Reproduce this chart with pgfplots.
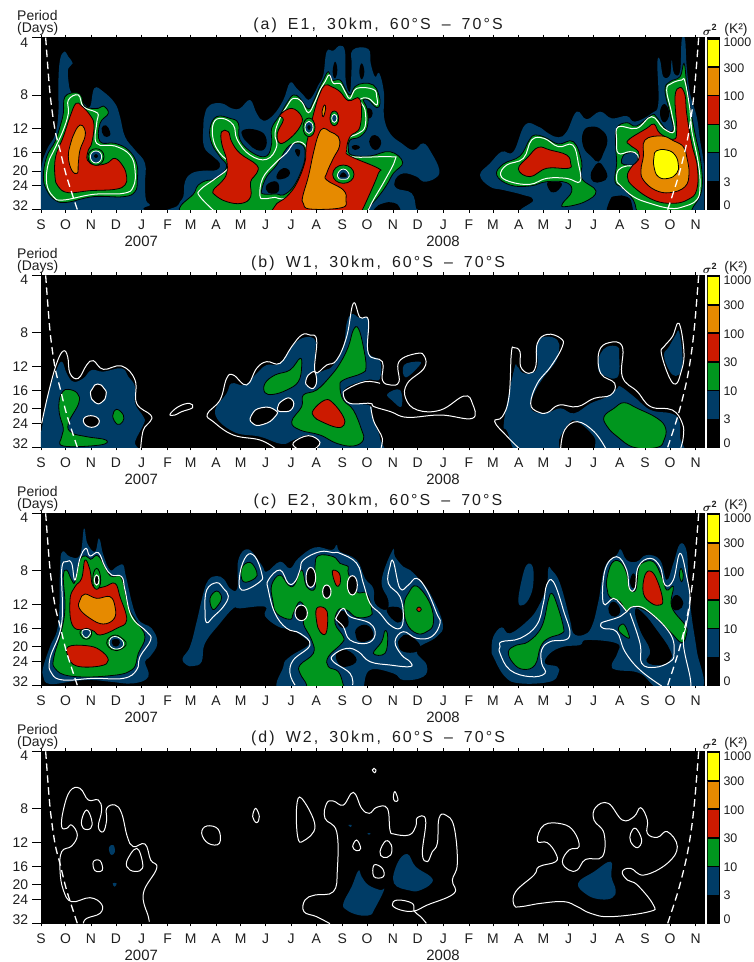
\documentclass[border=0pt]{standalone}
\usepackage{fontspec}
\setmainfont{Liberation Sans}
\newfontfamily\ttlfont[LetterSpace=13,WordSpace=1.7]{Liberation Sans}
\usepackage{pgfplots}
\pgfplotsset{compat=1.18}
\definecolor{cblue}{RGB}{0,60,102}
\definecolor{cgreen}{RGB}{0,150,30}
\definecolor{cred}{RGB}{204,26,0}
\definecolor{corange}{RGB}{230,138,0}
\definecolor{cyellow}{RGB}{255,255,0}
\definecolor{txt}{RGB}{30,30,30}
\pgfplotsset{
 bz/.style={no marks,smooth cycle,tension=0.7,fill=cblue,draw=none},
 kz/.style={no marks,smooth cycle,tension=0.8,fill=black,draw=none},
 gz/.style={no marks,smooth cycle,tension=0.7,fill=cgreen,draw=black,line width=0.8bp},
 gr/.style={no marks,smooth cycle,tension=1,fill=cgreen,draw=black,line width=0.8bp},
 rz/.style={no marks,smooth cycle,tension=0.7,fill=cred,draw=black,line width=0.8bp},
 oz/.style={no marks,smooth cycle,tension=0.7,fill=corange,draw=black,line width=0.8bp},
 yz/.style={no marks,smooth cycle,tension=0.8,fill=cyellow,draw=black,line width=0.8bp},
 wl/.style={no marks,smooth cycle,tension=0.7,draw=white,line width=1bp},
 wo/.style={no marks,smooth,tension=0.7,draw=white,line width=1bp},
 wk/.style={no marks,smooth cycle,tension=1,draw=white,fill=black,line width=1bp},
 wb/.style={no marks,smooth cycle,tension=1,draw=white,fill=cblue,line width=0.8bp},
 dl/.style={no marks,smooth,draw=white,line width=1.3bp,dash pattern=on 7.5bp off 4.5bp},
 d/.style 2 args={x filter/.code={\pgfmathparse{##1+#1}},y filter/.code={\pgfmathparse{##1+#2}}},
 panel/.style={scale only axis,width=663bp,height=172bp,anchor=north west,
  xmin=123,xmax=2112,y dir=reverse,
  axis background/.style={fill=black},
  axis line style={line width=0.6bp,black},
  tick align=outside,ytick pos=left,
  xtick={123,197,273,348,425,503,572,648,722,797,873,949,1027,1101,1179,1253,1330,1407,1479,1556,1630,1706,1781,1859,1935,2010,2087},
  xticklabels={S,O,N,D,J,F,M,A,M,J,J,A,S,O,N,D,J,F,M,A,M,J,J,A,S,O,N},
  xtick style={/pgfplots/major tick length=3bp,line width=0.6bp,black},
  ytick style={/pgfplots/major tick length=9bp,line width=0.6bp,black},
  xticklabel style={font=\fontsize{14}{14}\selectfont,text=txt,anchor=center,yshift=-11bp},
  yticklabel style={font=\fontsize{14}{14}\selectfont,text=txt,anchor=east,xshift=-5bp},
  yticklabels={,8,12,16,20,24,},
  extra y tick labels={4,32},
  extra tick style={ytick style={draw=none}},
 },
 rt/.style={scale only axis,width=663bp,height=172bp,anchor=north west,
  xmin=123,xmax=2112,y dir=reverse,axis lines=none},
 cb/.style={scale only axis,width=11.7bp,height=172bp,anchor=north west,
  xmin=0,xmax=1,ymin=0,ymax=516,y dir=reverse,
  axis background/.style={fill=black},
  axis line style={line width=0.6bp,black},
  xtick=\empty,ytick pos=right,
  ytick={14,91,177,262,348,433,504},
  yticklabels={1000,300,100,30,10,3,0},
  ytick style={draw=none},
  yticklabel style={font=\fontsize{12.5}{12.5}\selectfont,text=txt,anchor=west,xshift=1bp},
 },
}
\newcommand\cbarfill{%
 \addplot[fill=cyellow,draw=black,line width=0.7bp] coordinates {(0,4)(1,4)(1,87)(0,87)} --cycle;
 \addplot[fill=corange,draw=black,line width=0.7bp] coordinates {(0,89)(1,89)(1,172)(0,172)} --cycle;
 \addplot[fill=cred,draw=black,line width=0.7bp] coordinates {(0,174)(1,174)(1,259)(0,259)} --cycle;
 \addplot[fill=cgreen,draw=black,line width=0.7bp] coordinates {(0,261)(1,261)(1,345)(0,345)} --cycle;
 \addplot[fill=cblue,draw=none] coordinates {(0,346)(1,346)(1,430)(0,430)} --cycle;
}
\newcommand\ptext[7]{%
 \node[font=\ttlfont\fontsize{16}{16}\selectfont,text=txt] at (378bp,-#2bp) {#1, 30km, 60°S – 70°S};
 \node[font=\fontsize{14}{14}\selectfont,text=txt,anchor=west,inner sep=0pt] at (17bp,-#3bp) {Period};
 \node[font=\fontsize{14}{14}\selectfont,text=txt,anchor=west,inner sep=0pt] at (17bp,-#4bp) {(Days)};
 \node[font=\fontsize{15}{15}\selectfont,text=txt] at (141.3bp,-#5bp) {2007};
 \node[font=\fontsize{15}{15}\selectfont,text=txt] at (443bp,-#5bp) {2008};
 \node[font=\bfseries\fontsize{13}{13}\selectfont,text=txt] at (710bp,-#6bp) {$\boldsymbol{\sigma}^{\mathbf 2}$};
 \node[font=\fontsize{14}{14}\selectfont,text=txt] at (736bp,-#7bp) {(K²)};
}
\usepackage{amsmath}
\begin{document}
\begin{tikzpicture}[x=1bp,y=1bp]
\path[use as bounding box] (0,0) rectangle (754,-962);
%%%%%%%%%%%%%%%%%%%%%%%%% (a)
\begin{axis}[panel,at={(41bp,-37.67bp)},ymin=113,ymax=629,
 ytick={113,285,386,458,513,557,629},extra y ticks={127,617}]
\addplot[bz] coordinates {(110,650)(123,510)(140,450)(165,405)(175,340)(175,250)(180,180)(193,155)(205,170)(218,190)(205,205)(205,240)(215,280)(250,310)(270,320)(283,265)(310,275)(345,310)(360,350)(375,410)(405,450)(435,490)(435,550)(438,600)(450,615)(430,625)(423,650)};
\addplot[kz] coordinates {(305,385)(318,376)(330,395)(328,408)(312,408)};
\addplot[gz] coordinates {(195,290)(230,278)(245,290)(255,320)(295,325)(310,318)(325,340)(300,370)(300,425)(345,430)(385,450)(410,490)(412,540)(405,575)(370,590)(280,590)(200,607)(165,600)(140,570)(130,530)(140,470)(165,425)(180,380)(190,340)};
\addplot[wl] coordinates {(205,300)(235,285)(250,320)(285,335)(295,345)(290,370)(290,430)(345,438)(390,465)(405,510)(400,560)(370,580)(280,583)(190,600)(160,590)(140,550)(145,490)(165,445)(190,390)(205,340)};
\addplot[rz] coordinates {(228,310)(245,318)(270,345)(282,375)(275,430)(265,450)(262,480)(285,495)(320,490)(345,475)(370,500)(380,530)(375,555)(345,568)(270,572)(205,578)(175,560)(165,530)(167,470)(190,410)(210,350)};
\addplot[oz] coordinates {(240,375)(253,385)(255,410)(240,450)(235,490)(232,520)(215,510)(205,470)(212,430)(225,395)};
\addplot[gr] coordinates {(288,446)(312,470)(288,496)(264,470)};
\addplot[wb] coordinates {(288,453)(305,470)(288,489)(271,470)};
\addplot[kz] coordinates {(288,462)(294,468)(288,474)(282,468)};
% middle
\addplot[bz] coordinates {(535,615)(550,590)(555,545)(575,520)(610,512)(650,510)(660,490)(640,470)(612,440)(610,380)(615,340)(630,315)(665,310)(695,325)(720,325)(750,300)(770,340)(790,362)(820,345)(850,300)(870,248)(890,265)(910,285)(925,300)(940,285)(955,255)(970,225)(980,155)(1000,152)(1020,137)(1035,155)(1037,240)(1050,275)(1055,200)(1058,150)(1105,147)(1112,190)(1125,230)(1138,220)(1152,280)(1152,350)(1170,400)(1205,430)(1240,450)(1270,430)(1295,460)(1318,510)(1305,535)(1270,545)(1250,530)(1210,520)(1185,540)(1190,565)(1235,580)(1248,625)(1250,650)(545,650)};
\addplot[kz] coordinates {(1125,625)(1150,610)(1180,608)(1200,625)(1190,650)(1120,650)};
\addplot[kz] coordinates {(1005,185)(998,215)(1005,235)(1012,210)};
\addplot[kz] coordinates {(1085,190)(1078,215)(1085,238)(1093,215)};
\addplot[kz] coordinates {(730,390)(770,390)(797,410)(795,445)(770,450)(745,430)(728,410)};
\addplot[kz] coordinates {(1098,330)(1110,325)(1118,340)(1110,355)(1100,350)};
\addplot[kz] coordinates {(1110,415)(1125,405)(1142,420)(1140,440)(1125,450)(1110,435)};
\addplot[kz] coordinates {(1055,440)(1068,435)(1080,442)(1065,450)};
\addplot[gz] coordinates {(582,650)(585,575)(610,545)(650,535)(680,500)(660,470)(635,430)(630,385)(650,350)(690,355)(715,370)(720,420)(760,460)(800,468)(815,430)(815,385)(840,345)(860,310)(880,285)(900,295)(925,327)(940,305)(955,270)(970,240)(985,215)(995,240)(1020,240)(1035,265)(1050,285)(1065,260)(1090,250)(1120,255)(1135,280)(1140,310)(1130,323)(1105,300)(1090,300)(1102,330)(1102,380)(1080,410)(1050,420)(1045,445)(1055,465)(1110,468)(1170,455)(1208,487)(1180,520)(1160,555)(1135,590)(1105,625)(1095,650)};
\addplot[no marks,smooth cycle,tension=0.7,fill=cblue,draw=black,line width=0.8bp] coordinates {(785,570)(800,530)(830,495)(860,445)(885,430)(910,437)(915,470)(905,510)(880,560)(850,585)(830,582)(790,582)};
\addplot[kz] coordinates {(885,450)(900,450)(895,470)};
\addplot[kz] coordinates {(840,510)(860,505)(870,520)(855,535)(830,535)};
\addplot[kz] coordinates {(800,555)(830,545)(835,575)(805,578)};
\addplot[wo] coordinates {(650,640)(600,590)(600,570)(640,540)(680,510)(690,490)(660,460)(640,420)(640,370)(665,355)(700,375)(712,420)(750,465)(800,478)(830,440)(825,400)(840,355)(860,320)(880,295)(905,305)(925,338)(945,305)(960,270)(975,245)(988,225)(1000,250)(1020,250)(1035,275)(1050,295)(1070,265)(1120,268)(1130,290)(1130,315)(1105,295)(1080,300)(1095,330)(1095,380)(1075,400)(1045,415)(1040,445)(1055,470)(1170,470)(1185,480)(1155,540)(1120,600)(1100,640)};
\addplot[wl] coordinates {(780,588)(788,535)(825,490)(860,458)(885,427)(915,435)(922,475)(905,525)(880,575)(850,597)(825,592)(795,596)};
\addplot[rz] coordinates {(665,395)(685,395)(695,425)(720,460)(770,495)(770,520)(752,545)(752,590)(725,610)(680,605)(645,585)(640,570)(665,545)(680,520)(680,480)(665,430)};
\addplot[rz] coordinates {(840,345)(875,325)(905,350)(900,380)(870,415)(840,430)(832,400)(850,360)};
\addplot[rz] coordinates {(975,255)(995,260)(1020,275)(1045,302)(1080,298)(1080,380)(1050,410)(1040,450)(1050,468)(1135,505)(1135,520)(1110,580)(1082,640)(1075,650)(840,650)(825,618)(860,590)(890,550)(915,485)(920,430)(945,325)(960,280)};
\addplot[oz] coordinates {(970,385)(990,395)(1015,410)(1018,440)(1000,475)(980,520)(980,540)(1030,570)(1038,600)(1025,623)(930,627)(910,610)(908,590)(925,530)(940,460)(955,405)};
\addplot[oz] coordinates {(973,315)(977,325)(970,350)(966,335)};
\addplot[gr] coordinates {(927,354)(945,382)(927,410)(909,382)};
\addplot[wb] coordinates {(927,364)(939,382)(927,400)(915,382)};
\addplot[kz] coordinates {(927,375)(932,382)(927,390)(922,382)};
\addplot[gr] coordinates {(1003,333)(1016,355)(1003,377)(990,355)};
\addplot[wb] coordinates {(1003,343)(1011,355)(1003,367)(995,355)};
\addplot[gr] coordinates {(1030,495)(1062,523)(1030,550)(998,523)};
\addplot[wb] coordinates {(1030,507)(1048,528)(1030,538)(1012,528)};
\addplot[kz] coordinates {(1030,517)(1040,530)(1020,530)};
% right
\addplot[bz] coordinates {(1440,525)(1470,490)(1505,455)(1540,455)(1575,375)(1615,380)(1645,400)(1675,412)(1700,395)(1730,335)(1760,358)(1800,335)(1835,355)(1880,348)(1905,365)(1955,340)(1975,310)(1972,190)(1980,180)(1990,230)(2010,225)(2015,180)(2022,220)(2040,215)(2045,120)(2055,118)(2060,200)(2070,280)(2090,350)(2100,420)(2110,480)(2115,540)(2115,650)(1600,650)(1600,600)(1570,585)(1510,570)(1470,560)};
\addplot[kz] coordinates {(1750,395)(1775,380)(1805,390)(1822,420)(1810,460)(1795,485)(1775,470)(1750,440)};
\addplot[kz] coordinates {(1795,488)(1810,500)(1822,530)(1805,545)(1780,545)(1772,525)(1780,505)};
\addplot[kz] coordinates {(1642,548)(1660,545)(1685,550)(1675,570)(1660,577)(1648,570)};
\addplot[kz] coordinates {(1980,335)(1993,312)(2007,335)(2002,360)(1988,365)};
\addplot[kz] coordinates {(1830,600)(1850,588)(1880,590)(1895,610)(1890,650)(1825,650)};
\addplot[gz] coordinates {(1490,525)(1510,492)(1560,468)(1588,420)(1605,405)(1635,412)(1675,432)(1720,425)(1745,485)(1745,535)(1788,573)(1755,605)(1695,620)(1688,610)(1715,575)(1700,548)(1640,545)(1590,558)(1530,555)};
\addplot[wl] coordinates {(1502,525)(1520,495)(1570,475)(1595,420)(1632,415)(1675,440)(1718,435)(1735,490)(1740,545)(1700,535)(1640,535)(1590,553)(1530,545)};
\addplot[rz] coordinates {(1555,507)(1585,470)(1615,442)(1650,450)(1700,465)(1712,490)(1705,505)(1640,505)(1590,530)};
\addplot[gz] coordinates {(1850,385)(1880,368)(1910,378)(1955,345)(1970,352)(2000,390)(2020,388)(2010,340)(1995,270)(2010,245)(2040,230)(2052,190)(2060,250)(2070,320)(2085,400)(2103,490)(2105,570)(2080,620)(2050,650)(1930,650)(1900,600)(1870,565)(1845,545)(1850,490)(1847,440)};
\addplot[no marks,smooth cycle,tension=0.7,fill=cblue,draw=black,line width=0.8bp] coordinates {(1880,460)(1905,458)(1913,470)(1908,492)(1885,495)(1865,490)(1868,470)};
\addplot[wl] coordinates {(1855,380)(1910,385)(1955,350)(1990,385)(2022,395)(2015,340)(2000,270)(2015,250)(2045,240)(2055,245)(2070,330)(2075,390)(2095,490)(2100,560)(2090,600)(2050,620)(2010,625)(1950,610)(1900,590)(1860,555)(1850,540)(1855,510)(1880,498)(1910,495)(1913,465)(1890,455)(1855,460)(1850,420)};
\addplot[rz] coordinates {(1885,420)(1940,385)(1962,372)(1980,400)(2020,418)(2030,390)(2025,290)(2040,262)(2055,285)(2060,340)(2075,430)(2092,500)(2090,570)(2065,598)(2020,610)(1960,600)(1900,560)(1882,530)(1895,500)(1915,480)(1915,455)(1890,435)};
\addplot[oz] coordinates {(1935,420)(1985,408)(2020,422)(2050,440)(2060,470)(2067,520)(2055,560)(2010,578)(1965,570)(1930,540)(1923,510)(1930,470)};
\addplot[yz] coordinates {(1970,452)(2000,450)(2025,465)(2035,495)(2030,520)(2005,535)(1975,530)(1962,500)(1962,470)};
\addplot[dl] coordinates {(137,113)(150,280)(165,390)(180,450)(200,530)(232,629)};
\addplot[dl] coordinates {(2003,629)(2035,530)(2060,430)(2075,340)(2085,250)(2096,113)};
\end{axis}
\begin{axis}[rt,at={(41bp,-37.67bp)},ymin=113,ymax=629,axis lines=right,x axis line style={draw=none},y axis line style={draw=none},xtick=\empty,ytick={285,386,458,513,557},yticklabels={},ytick style={/pgfplots/major tick length=3bp,black,line width=0.6bp},tick align=outside]
\end{axis}
\begin{axis}[cb,at={(707.3bp,-37.67bp)}]\cbarfill\end{axis}
\ptext{(a) E1}{25.5}{15.7}{29}{241}{30}{30}
%%%%%%%%%%%%%%%%%%%%%%%%% (b)
\begin{axis}[panel,at={(41bp,-275.33bp)},ymin=106,ymax=622,
 ytick={106,278,379,451,506,550,622},extra y ticks={120,610}]
\addplot[bz] coordinates {(110,650)(125,570)(140,480)(165,400)(185,365)(200,400)(220,425)(250,415)(275,390)(310,395)(365,385)(385,410)(405,440)(405,490)(430,530)(432,550)(405,605)(400,650)};
\addplot[wk] coordinates {(293,432)(312,445)(318,465)(305,487)(285,487)(272,465)(278,445)};
\addplot[wk] coordinates {(250,543)(272,527)(298,543)(275,562)};
\addplot[gz] coordinates {(205,448)(232,460)(236,490)(205,550)(215,578)(260,590)(318,600)(300,615)(190,618)(185,590)(190,565)(178,520)(178,480)(188,455)};
\addplot[gz] coordinates {(350,508)(370,525)(368,545)(352,553)(338,528)};
\addplot[wo] coordinates {(125,550)(145,460)(170,370)(190,333)(203,350)(210,400)(235,415)(260,375)(280,362)(310,388)(365,378)(405,420)(410,490)(452,525)(450,545)(430,570)(422,625)};
\addplot[wl] coordinates {(510,523)(535,500)(568,490)(578,503)(545,515)(525,525)};
\addplot[bz] coordinates {(645,520)(680,460)(695,430)(735,435)(770,400)(800,375)(840,370)(880,315)(915,292)(945,300)(945,340)(945,395)(975,390)(1000,375)(1030,320)(1040,250)(1055,222)(1080,235)(1105,240)(1105,335)(1140,362)(1140,415)(1122,420)(1100,420)(1040,442)(1028,470)(1050,490)(1110,497)(1115,530)(1130,565)(1140,595)(1140,650)(965,650)(960,605)(925,585)(880,600)(845,612)(780,590)(700,575)};
\addplot[wk] coordinates {(755,525)(785,503)(825,510)(825,530)(790,553)(758,550)};
\addplot[wk] coordinates {(832,505)(850,480)(875,478)(877,505)(850,515)};
\addplot[wk] coordinates {(918,420)(935,397)(948,405)(945,440)(925,440)};
\addplot[gz] coordinates {(795,430)(825,405)(870,390)(900,355)(905,380)(895,425)(860,450)(820,463)(795,458)};
\addplot[gz] coordinates {(875,545)(905,500)(910,465)(950,450)(990,410)(1020,370)(1045,320)(1060,270)(1075,265)(1090,320)(1098,380)(1085,400)(1030,420)(1020,440)(1030,480)(1060,510)(1085,570)(1090,600)(1060,618)(1010,610)(960,585)(900,570)};
\addplot[rz] coordinates {(940,510)(975,480)(1000,490)(1030,530)(1032,555)(1010,562)(965,545)(942,530)};
\addplot[wo] coordinates {(825,625)(780,600)(700,585)(640,545)(622,522)(660,480)(680,415)(700,405)(740,435)(770,385)(800,365)(840,370)(875,320)(905,285)(930,285)(950,300)(945,395)(980,375)(1010,360)(1040,290)(1060,190)(1080,232)(1105,240)(1105,340)(1147,365)(1147,420)(1172,435)(1197,425)(1197,365)(1252,340)(1274,350)(1272,385)(1222,430)(1217,475)(1252,510)(1322,510)(1392,468)(1417,490)(1417,535)(1322,525)(1222,532)(1172,515)(1122,500)(1110,490)(1050,490)(1030,465)(1040,448)(1095,425)(1140,430)};
\addplot[wo] coordinates {(1112,500)(1120,540)(1135,570)(1147,595)(1143,625)};
\addplot[wo] coordinates {(890,625)(880,608)(925,587)(960,607)(940,630)};
\addplot[bz,d={1122}{0}] coordinates {(390,545)(420,390)(430,380)(445,398)(470,400)(490,380)(490,310)(515,290)(550,300)(555,330)(545,365)(510,410)(490,440)(470,490)(480,515)(520,518)(560,505)(600,520)(650,490)(700,470)(730,445)(740,440)(780,470)(830,510)(890,520)(915,540)(918,590)(912,650)(690,650)(660,590)(610,545)(585,550)(555,600)(550,650)(440,650)(400,575)};
\addplot[bz,d={1122}{0}] coordinates {(680,340)(700,320)(730,320)(735,340)(730,412)(680,400)(672,370)};
\addplot[bz,d={1122}{0}] coordinates {(915,275)(925,340)(922,390)(905,408)(885,390)(870,345)(885,320)(905,285)};
\addplot[bz,d={1122}{0}] coordinates {(90,375)(135,365)(135,378)(95,412)};
\addplot[bz,d={1122}{0}] coordinates {(40,462)(78,450)(82,500)(55,482)};
\addplot[gz,d={1122}{0}] coordinates {(690,530)(720,505)(750,488)(790,505)(850,535)(875,565)(870,600)(850,622)(780,622)(730,590)(700,560)};
\addplot[wo,d={1122}{0}] coordinates {(435,625)(400,590)(362,545)(385,530)(405,470)(412,340)(420,323)(438,335)(440,380)(465,400)(485,380)(490,310)(520,283)(560,295)(565,320)(530,380)(490,430)(470,490)(490,515)(520,518)(555,495)(610,500)(660,475)(710,465)(722,430)(680,400)(675,335)(705,308)(745,320)(745,410)(790,455)(830,500)(895,510)(925,550)(928,590)(920,625)};
\addplot[wo,d={1122}{0}] coordinates {(560,625)(572,570)(610,545)(660,575)(695,625)};
\addplot[wl,d={1122}{0}] coordinates {(915,250)(930,340)(920,400)(905,432)(885,410)(862,340)(870,320)(895,290)};
\addplot[dl,d={0}{-7}] coordinates {(137,113)(150,280)(165,390)(180,450)(200,530)(232,629)};
\addplot[dl,d={0}{-7}] coordinates {(2003,629)(2035,530)(2060,430)(2075,340)(2085,250)(2096,113)};
\end{axis}
\begin{axis}[rt,at={(41bp,-275.33bp)},ymin=106,ymax=622,axis lines=right,x axis line style={draw=none},y axis line style={draw=none},xtick=\empty,ytick={278,379,451,506,550},yticklabels={},ytick style={/pgfplots/major tick length=3bp,black,line width=0.6bp},tick align=outside]
\end{axis}
\begin{axis}[cb,at={(707.3bp,-275.33bp)}]\cbarfill\end{axis}
\ptext{(b) W1}{263.5}{253.3}{267}{479}{268}{268}
%%%%%%%%%%%%%%%%%%%%%%%%% (c)
\begin{axis}[panel,at={(41bp,-513.33bp)},ymin=100,ymax=616,
 ytick={100,272,373,445,500,544,616},extra y ticks={114,604}]
\addplot[bz] coordinates {(130,560)(150,500)(175,430)(180,270)(187,215)(210,230)(240,225)(252,145)(262,190)(285,215)(297,175)(310,225)(330,270)(350,260)(370,255)(378,290)(410,410)(455,445)(472,490)(450,530)(435,545)(445,590)(400,610)(330,605)(280,600)(230,602)(150,612)(130,590)};
\addplot[gz] coordinates {(190,290)(200,270)(215,300)(225,305)(240,240)(258,228)(272,238)(295,228)(325,280)(340,290)(365,295)(385,380)(410,425)(435,470)(415,520)(395,570)(320,588)(210,588)(165,565)(162,530)(185,450)(195,380)};
\addplot[wl] coordinates {(150,535)(185,430)(185,270)(200,245)(215,250)(225,300)(240,235)(258,205)(270,228)(295,218)(315,260)(335,285)(365,290)(375,330)(395,410)(440,455)(452,480)(420,530)(410,570)(370,595)(280,595)(190,600)(155,580)};
\addplot[rz] coordinates {(255,240)(270,270)(280,320)(313,320)(345,310)(360,350)(380,420)(350,445)(300,465)(275,450)(220,440)(210,360)(225,320)(245,295)};
\addplot[gr] coordinates {(290,265)(302,300)(290,328)(278,300)};
\addplot[wk] coordinates {(290,285)(297,300)(290,315)(283,300)};
\addplot[oz] coordinates {(255,342)(290,355)(330,350)(345,380)(343,415)(310,432)(270,415)(238,385)(240,360)};
\addplot[gz] coordinates {(240,455)(260,445)(275,455)(268,475)(250,475)};
\addplot[wb] coordinates {(247,452)(270,452)(265,470)(252,470)};
\addplot[gz] coordinates {(322,480)(345,465)(370,478)(378,495)(350,512)(325,500)};
\addplot[wb] coordinates {(332,475)(360,475)(368,500)(335,503)};
\addplot[kz] coordinates {(337,480)(358,480)(355,497)(340,497)};
\addplot[rz] coordinates {(205,500)(260,497)(300,510)(325,540)(300,558)(230,558)(205,530)};
% middle
\addplot[bz] coordinates {(548,535)(570,500)(590,425)(610,340)(625,300)(650,288)(672,298)(690,325)(712,325)(715,240)(745,208)(785,255)(800,275)(840,245)(870,265)(895,235)(945,202)(995,210)(1010,195)(1020,215)(1070,240)(1095,295)(1120,325)(1125,370)(1158,390)(1165,360)(1145,302)(1178,210)(1185,230)(1210,260)(1230,270)(1255,295)(1290,340)(1328,430)(1310,470)(1250,510)(1280,555)(1270,590)(1210,600)(1180,580)(1110,570)(1090,625)(1085,640)(850,640)(850,560)(870,530)(925,495)(915,475)(875,450)(835,440)(795,408)(795,380)(720,385)(700,385)(660,430)(615,490)(605,545)(580,558)(560,555)};
\addplot[kz,d={600}{90}] coordinates {(560,300)(580,290)(605,300)(603,335)(580,330)};
\addplot[kz,d={600}{90}] coordinates {(470,355)(500,345)(520,370)(510,390)(480,395)(468,380)};
\addplot[kz,d={600}{90}] coordinates {(410,430)(440,420)(470,450)(440,470)(415,460)};
\addplot[kz,d={600}{90}] coordinates {(600,385)(625,375)(660,405)(650,425)(610,425)(595,405)};
\addplot[kz,d={600}{90}] coordinates {(410,315)(435,305)(445,345)(420,350)};
\addplot[gz,d={600}{90}] coordinates {(215,225)(240,195)(265,225)(283,225)(305,180)(320,230)(345,235)(345,170)(355,137)(400,140)(420,160)(445,170)(445,190)(470,245)(500,250)(515,300)(510,318)(470,322)(440,300)(415,300)(405,340)(430,380)(425,400)(385,440)(385,470)(415,485)(430,525)(435,550)(315,550)(320,525)(300,490)(300,465)(340,430)(335,390)(310,340)(320,310)(300,275)(280,310)(270,328)(230,310)(218,270)};
\addplot[gz,d={600}{90}] coordinates {(555,362)(563,380)(555,430)(520,430)(545,395)};
\addplot[gz,d={600}{90}] coordinates {(650,228)(690,280)(700,340)(680,365)(650,370)(620,340)(612,285)(625,250)};
\addplot[gz,d={600}{90}] coordinates {(30,265)(50,243)(65,262)(55,285)(38,298)};
\addplot[gz,d={600}{90}] coordinates {(125,175)(150,157)(170,185)(165,205)(130,215)};
\addplot[rz,d={600}{90}] coordinates {(350,295)(375,295)(383,320)(378,370)(360,365)(350,335)};
\addplot[rz,d={600}{90}] coordinates {(397,183)(418,190)(420,222)(408,225)};
\addplot[rz,d={600}{90}] coordinates {(657,291)(664,298)(657,305)(650,298)};
\addplot[wl,d={600}{90}] coordinates {(15,300)(20,240)(50,218)(70,235)(85,258)(70,290)(40,320)(20,338)};
\addplot[wl,d={600}{90}] coordinates {(120,190)(140,137)(165,140)(185,190)(180,215)(125,240)};
\addplot[wo,d={600}{90}] coordinates {(285,525)(270,490)(280,450)(330,405)(300,370)(260,355)(225,310)(205,240)(205,210)(240,180)(265,220)(285,215)(300,180)(310,150)(360,125)(400,128)(420,130)(470,160)(490,220)(510,280)(540,310)(570,345)(600,355)(610,320)(600,260)(565,220)(570,170)(580,155)(600,235)(625,225)(650,205)(680,240)(710,310)(720,340)(695,380)(650,385)(610,365)(585,395)(605,435)(630,455)(630,470)(570,465)(510,455)(475,425)(440,415)(400,435)(400,455)(450,490)(458,525)};
\addplot[wl,d={600}{90}] coordinates {(410,320)(430,295)(450,320)(510,340)(525,375)(500,400)(450,390)(430,350)(410,330)};
\addplot[wk,d={600}{90}] coordinates {(332,172)(347,203)(332,232)(318,203)};
\addplot[wk,d={600}{90}] coordinates {(380,225)(393,245)(380,265)(368,245)};
\addplot[wk,d={600}{90}] coordinates {(457,197)(472,225)(457,255)(442,225)};
\addplot[wk,d={600}{90}] coordinates {(303,285)(322,308)(305,332)(285,310)};
% right
\addplot[bz,d={1410}{90}] coordinates {(65,420)(70,380)(95,352)(120,370)(175,330)(205,290)(230,230)(235,175)(245,180)(270,220)(300,330)(310,370)(340,375)(365,350)(385,275)(405,170)(440,135)(452,118)(470,150)(500,155)(530,135)(570,150)(590,210)(610,160)(630,102)(650,125)(655,220)(665,320)(680,420)(695,540)(575,540)(510,490)(440,480)(425,465)(442,430)(440,400)(350,390)(330,405)(280,410)(240,430)(225,460)(262,470)(265,490)(240,515)(150,520)(105,500)(70,440)};
\addplot[bz,d={1410}{90}] coordinates {(170,165)(188,170)(190,220)(180,260)(160,285)(145,275)(155,210)};
\addplot[kz,d={1410}{90}] coordinates {(495,300)(520,310)(560,360)(600,420)(600,450)(570,465)(530,455)(540,420)(510,360)};
\addplot[kz,d={1410}{90}] coordinates {(415,295)(430,275)(450,295)(445,315)(425,318)};
\addplot[kz,d={1410}{90}] coordinates {(605,270)(622,255)(640,280)(625,300)(607,295)};
\addplot[gz,d={1410}{90}] coordinates {(115,425)(140,405)(175,395)(215,350)(235,270)(245,250)(260,280)(280,350)(275,370)(235,385)(212,410)(195,465)(160,478)(130,460)};
\addplot[gz,d={1410}{90}] coordinates {(410,210)(425,160)(450,155)(470,190)(478,235)(497,240)(505,180)(515,160)(550,155)(575,200)(590,240)(610,230)(605,290)(645,345)(650,370)(635,398)(600,365)(540,310)(490,290)(470,305)(450,275)(420,262)(412,240)};
\addplot[kz,d={1410}{90}] coordinates {(490,190)(500,215)(490,235)(480,215)};
\addplot[rz,d={1410}{90}] coordinates {(525,195)(545,185)(565,220)(578,270)(570,285)(545,280)(520,250)};
\addplot[gz,d={1410}{90}] coordinates {(460,342)(475,370)(475,385)(445,360)};
\addplot[gz,d={1410}{90}] coordinates {(633,175)(640,195)(635,215)(628,195)};
\addplot[wl,d={1410}{90}] coordinates {(90,410)(95,395)(150,385)(200,345)(220,280)(230,225)(250,215)(280,300)(298,380)(240,395)(215,420)(215,460)(225,490)(180,500)(120,480)(90,430)};
\addplot[wo,d={1410}{90}] coordinates {(575,528)(510,480)(465,425)(440,365)(400,355)(393,340)(420,330)(450,320)(470,305)(490,290)(530,300)(600,370)(612,430)(600,455)(555,472)(515,460)(510,400)(480,310)};
\addplot[wo,d={1410}{90}] coordinates {(470,305)(450,280)(430,265)(400,280)(405,180)(440,140)(470,180)(478,235)(495,235)(505,170)(540,145)(570,170)(585,225)(610,210)(630,130)(650,200)(660,270)(650,340)(640,400)(660,500)(662,530)};
\addplot[dl,d={0}{-13}] coordinates {(137,113)(150,280)(165,390)(180,450)(200,530)(232,629)};
\addplot[dl,d={0}{-13}] coordinates {(2003,629)(2035,530)(2060,430)(2075,340)(2085,250)(2096,113)};
\end{axis}
\begin{axis}[rt,at={(41bp,-513.33bp)},ymin=100,ymax=616,axis lines=right,x axis line style={draw=none},y axis line style={draw=none},xtick=\empty,ytick={272,373,445,500,544},yticklabels={},ytick style={/pgfplots/major tick length=3bp,black,line width=0.6bp},tick align=outside]
\end{axis}
\begin{axis}[cb,at={(707.3bp,-513.33bp)}]\cbarfill\end{axis}
\ptext{(c) E2}{501.2}{491.7}{505}{717}{506}{506}
%%%%%%%%%%%%%%%%%%%%%%%%% (d)
\begin{axis}[panel,at={(41bp,-751.33bp)},ymin=94,ymax=610,
 ytick={94,266,367,439,494,538,610},extra y ticks={108,598}]
\addplot[bz] coordinates {(328,380)(340,375)(345,395)(335,405)(328,395)};
\addplot[bz] coordinates {(338,490)(350,490)(344,500)};
\addplot[bz] coordinates {(1030,550)(1055,500)(1075,452)(1085,470)(1105,495)(1140,510)(1152,510)(1122,570)(1110,585)(1075,585)(1040,570)};
\addplot[bz] coordinates {(1045,315)(1055,315)(1052,321)};
\addplot[bz] coordinates {(1102,340)(1112,340)(1107,344)};
\addplot[bz,d={1122}{0}] coordinates {(60,490)(70,430)(100,402)(125,440)(170,470)(172,490)(140,510)(110,512)};
\addplot[bz,d={1122}{0}] coordinates {(612,490)(660,455)(710,425)(712,470)(725,510)(715,533)(680,538)(640,525)};
\addplot[wo] coordinates {(250,610)(260,595)(300,580)(305,553)(270,533)(215,545)(190,510)(180,450)(185,395)(215,378)(232,345)(215,315)(200,325)(185,320)(190,270)(210,213)(240,205)(265,240)(295,240)(305,270)(295,320)(310,335)(320,300)(320,265)(345,255)(365,280)(382,350)(400,380)(435,372)(452,420)(470,445)(430,520)(445,590)(448,605)};
\addplot[wl] coordinates {(260,270)(275,300)(272,325)(250,325)(245,300)};
\addplot[wl] coordinates {(280,425)(300,422)(307,450)(285,452)};
\addplot[wl] coordinates {(410,385)(428,430)(420,452)(390,450)(380,425)};
\addplot[wl] coordinates {(605,340)(620,318)(655,328)(658,370)(625,370)};
\addplot[wl] coordinates {(767,265)(778,290)(770,308)(758,290)};
\addplot[wl] coordinates {(905,235)(945,318)(910,363)(893,350)(890,260)};
\addplot[wl] coordinates {(1122,145)(1128,150)(1124,158)(1117,150)};
\addplot[wo] coordinates {(990,611)(950,590)(912,575)(915,540)(945,525)(1000,515)(1012,450)(1010,335)(975,295)(980,250)(1000,243)(1030,255)(1060,217)(1085,265)(1108,280)(1130,262)(1162,265)(1170,330)(1182,342)(1227,345)(1247,320)(1252,293)(1277,300)(1267,400)(1282,425)(1297,395)(1312,370)(1317,295)(1337,285)(1362,320)(1372,430)(1357,480)(1362,520)(1282,555)(1242,573)(1202,570)(1177,555)(1192,540)(1237,550)(1242,573)(1262,590)(1279,610)};
\addplot[wl] coordinates {(1070,360)(1082,385)(1070,392)(1058,380)};
\addplot[wl,d={1122}{0}] coordinates {(0,435)(25,445)(28,470)(0,470)};
\addplot[wl,d={1122}{0}] coordinates {(35,363)(52,375)(50,405)(28,412)(18,395)};
\addplot[wl,d={1122}{0}] coordinates {(63,215)(72,240)(62,243)(58,230)};
\addplot[wl,d={1122}{0}] coordinates {(420,555)(425,515)(480,465)(495,440)(545,425)(545,400)(520,368)(490,363)(510,315)(565,312)(600,335)(615,380)(585,390)(565,425)(585,450)(610,450)(635,418)(685,410)(690,340)(660,300)(665,262)(703,250)(745,300)(780,290)(800,263)(820,300)(820,340)(850,352)(880,335)(910,380)(880,430)(810,465)(770,445)(745,455)(760,480)(790,495)(838,555)(825,575)(710,590)(650,580)(610,560)(570,545)(500,550)(440,560)};
\addplot[wl,d={1122}{0}] coordinates {(785,325)(803,360)(790,383)(770,365)(770,340)};
\addplot[dl,d={0}{-19}] coordinates {(137,113)(150,280)(165,390)(180,450)(200,530)(232,629)};
\addplot[dl,d={0}{-19}] coordinates {(2003,629)(2035,530)(2060,430)(2075,340)(2085,250)(2096,113)};
\end{axis}
\begin{axis}[rt,at={(41bp,-751.33bp)},ymin=94,ymax=610,axis lines=right,x axis line style={draw=none},y axis line style={draw=none},xtick=\empty,ytick={266,367,439,494,538},yticklabels={},ytick style={/pgfplots/major tick length=3bp,black,line width=0.6bp},tick align=outside]
\end{axis}
\begin{axis}[cb,at={(707.3bp,-751.33bp)}]\cbarfill\end{axis}
\ptext{(d) W2}{738.5}{729}{743}{955}{744}{744}
\end{tikzpicture}
\end{document}
